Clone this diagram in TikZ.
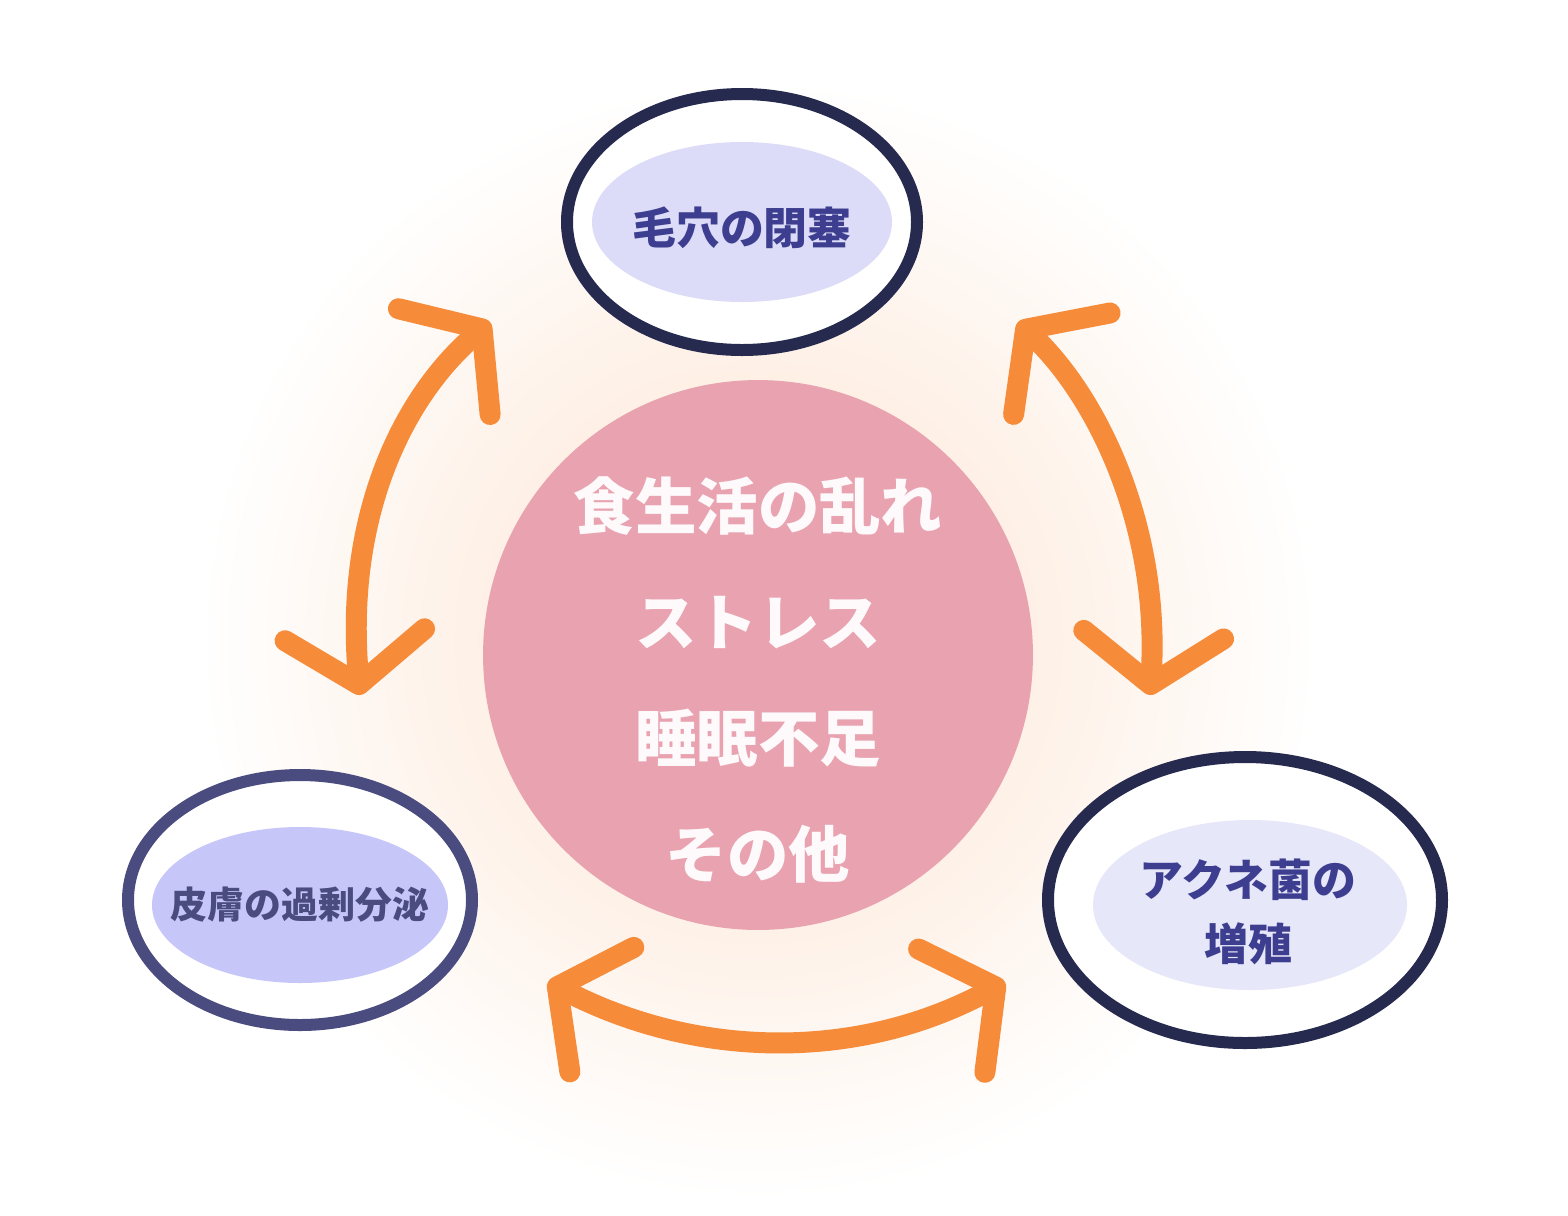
\documentclass[tikz,border=0pt]{standalone}
\usepackage{fontspec}
\setmainfont{Noto Sans CJK JP}
\usetikzlibrary{arrows.meta}
\definecolor{navy}{HTML}{262A4E}
\definecolor{slate}{HTML}{4A4C80}
\definecolor{lav}{HTML}{DCDCF8}
\definecolor{ink}{HTML}{3E3E90}
\definecolor{rose}{HTML}{E8A2B0}
\definecolor{tang}{HTML}{F68B3A}
\tikzset{
  ring/.style={draw=navy, line width=0.24cm},
  label/.style={font=\bfseries\fontsize{25}{30}\selectfont, text=ink, align=center},
  cycle/.style={draw=tang, line width=0.42cm, line cap=round, line join=round,
    {Straight Barb[round, length=1cm, width=2.8cm, line width=0.42cm]}-{Straight Barb[round, length=1cm, width=2.8cm, line width=0.42cm]}},
}
\begin{document}
\begin{tikzpicture}[x=0.02cm, y=-0.02cm]
  \useasboundingbox (0,0) rectangle (1568,1215);
  % glow
  \shade[inner color=tang!25, outer color=white] (758,640) circle (560);
  % center
  \node[circle, fill=rose, minimum size=11cm] (cause) at (758,655) {};
  \node[text=white!95!rose, align=center, font=\bfseries\fontsize{35}{66}\selectfont] at (758,680)
    {食生活の乱れ\\ストレス\\睡眠不足\\その他};
  % top
  \draw[ring, fill=white] (742,222) ellipse (175 and 128);
  \fill[lav] (742,222) ellipse (150 and 80);
  \node[label] (pore) at (742,228) {毛穴の閉塞};
  % bottom left
  \draw[ring, draw=slate, fill=white] (300,900) ellipse (172 and 125);
  \fill[lav!90!blue] (300,905) ellipse (148 and 78);
  \node[label, font=\bfseries\fontsize{21}{26}\selectfont, text=slate] (sebum) at (300,905) {皮膚の過剰分泌};
  % bottom right
  \draw[ring, fill=white] (1245,900) ellipse (197 and 143);
  \fill[lav!70] (1250,905) ellipse (157 and 85);
  \node[label] (acne) at (1248,912) {アクネ菌の\\[6pt]増殖};
  % arrows
  \coordinate (lt) at (490,322); \coordinate (lb) at (360,695);
  \coordinate (rt) at (1018,322); \coordinate (rb) at (1150,695);
  \coordinate (bl) at (548,982); \coordinate (br) at (1005,982);
  \draw[cycle] (lb) .. controls (345,520) and (400,400) .. (lt);
  \draw[cycle] (rt) .. controls (1100,400) and (1160,530) .. (rb);
  \draw[cycle] (bl) .. controls (700,1060) and (860,1060) .. (br);
\end{tikzpicture}
\end{document}
